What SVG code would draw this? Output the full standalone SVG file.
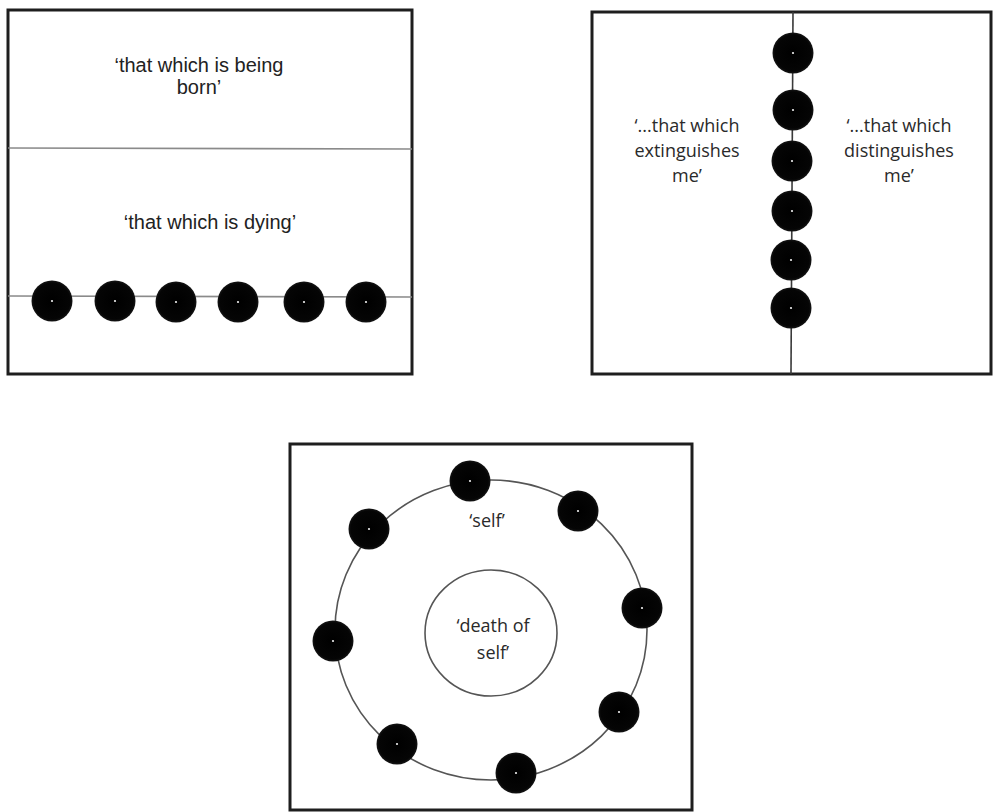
<svg xmlns="http://www.w3.org/2000/svg" width="993" height="812" viewBox="0 0 993 812">
<defs>
<radialGradient id="dg" cx="0.5" cy="0.5" r="0.5">
<stop offset="0" stop-color="#000"/>
<stop offset="0.88" stop-color="#050505"/>
<stop offset="1" stop-color="#151515"/>
</radialGradient>
<g id="dot"><circle r="20.5" fill="url(#dg)"/><circle r="1.1" fill="#eee"/></g>
</defs>
<style>
.box{fill:none;stroke:#1e1e1e;stroke-width:3}
.ln{fill:none;stroke:#8a8a8a;stroke-width:1.6}
.ln2{fill:none;stroke:#3a3a3a;stroke-width:1.6}
.ln3{fill:none;stroke:#555;stroke-width:1.6}
.a{font-family:"Liberation Sans",Arial,sans-serif;font-size:20px;fill:#222;text-anchor:middle}
.c{font-family:"Open Sans","Liberation Sans",sans-serif;font-size:18px;fill:#2a2a2a;text-anchor:middle}
</style>
<rect width="993" height="812" fill="#fff"/>
<g id="panel1">
<rect class="box" x="8" y="10" width="404" height="364"/>
<g id="connectors1">
<line class="ln" x1="8" y1="148" x2="412" y2="149"/>
<line class="ln" x1="8" y1="296" x2="412" y2="297"/>
</g>
<text class="a" x="199" y="72">‘that which is being</text>
<text class="a" x="199" y="94">born’</text>
<text class="a" x="210" y="229">‘that which is dying’</text>
<g id="row1">
<use href="#dot" x="52" y="301"/>
<use href="#dot" x="115" y="301"/>
<use href="#dot" x="176" y="302"/>
<use href="#dot" x="238" y="302"/>
<use href="#dot" x="304" y="302"/>
<use href="#dot" x="366" y="302"/>
</g>
</g>
<g id="panel2">
<rect class="box" x="592" y="12" width="399" height="362"/>
<g id="connectors2">
<line class="ln2" x1="793" y1="12" x2="791" y2="374"/>
</g>
<text class="c" x="687" y="132">‘...that which</text>
<text class="c" x="687" y="157">extinguishes</text>
<text class="c" x="687" y="182">me’</text>
<text class="c" x="899" y="132">‘...that which</text>
<text class="c" x="899" y="157">distinguishes</text>
<text class="c" x="899" y="182">me’</text>
<g id="col2">
<use href="#dot" x="793" y="53"/>
<use href="#dot" x="793" y="110"/>
<use href="#dot" x="792" y="161"/>
<use href="#dot" x="792" y="211"/>
<use href="#dot" x="791" y="260"/>
<use href="#dot" x="791" y="308"/>
</g>
</g>
<g id="panel3">
<rect class="box" x="290" y="444" width="402" height="366"/>
<g id="connectors3">
<ellipse class="ln3" cx="491" cy="630" rx="156" ry="150"/>
<ellipse class="ln3" cx="491" cy="633" rx="66" ry="63"/>
</g>
<text class="c" x="487" y="527">‘self’</text>
<text class="c" x="493" y="632">‘death of</text>
<text class="c" x="493" y="659">self’</text>
<g id="ring3">
<use href="#dot" x="470" y="481"/>
<use href="#dot" x="578" y="511"/>
<use href="#dot" x="642" y="608"/>
<use href="#dot" x="619" y="712"/>
<use href="#dot" x="516" y="773"/>
<use href="#dot" x="397" y="744"/>
<use href="#dot" x="333" y="641"/>
<use href="#dot" x="369" y="529"/>
</g>
</g>
</svg>
